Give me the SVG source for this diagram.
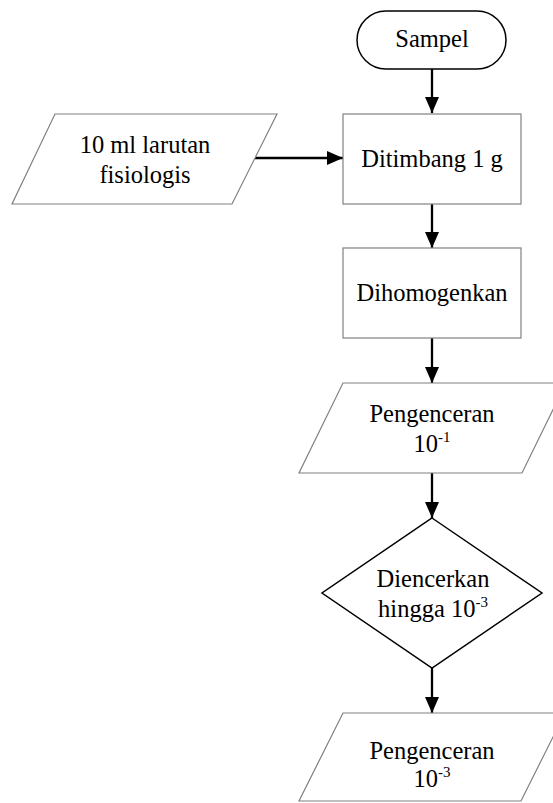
<svg xmlns="http://www.w3.org/2000/svg" width="553" height="803" viewBox="0 0 553 803">
  <style>
    .box { fill: #ffffff; stroke: #808080; stroke-width: 1.2; }
    .dark { fill: #ffffff; stroke: #000000; stroke-width: 1.5; }
    text { font-family: "Times New Roman", "Liberation Serif", "DejaVu Serif", serif; font-size: 24.5px; fill: #000000; text-anchor: middle; }
    .sup { font-size: 15px; }
    .flow { fill: none; stroke: #000000; stroke-width: 2.3; marker-end: url(#head); }
  </style>
  <defs>
    <marker id="head" markerUnits="userSpaceOnUse" markerWidth="16" markerHeight="14" refX="16" refY="7" orient="auto">
      <path d="M0,0 L16,7 L0,14 Z" fill="#000000"/>
    </marker>
  </defs>
  <rect width="553" height="803" fill="#ffffff"/>

  <g id="connectors">
    <line class="flow" x1="432" y1="69" x2="432" y2="113"/>
    <line class="flow" x1="255" y1="158" x2="343" y2="158"/>
    <line class="flow" x1="432" y1="204" x2="432" y2="248"/>
    <line class="flow" x1="432" y1="338" x2="432" y2="383"/>
    <line class="flow" x1="432" y1="473" x2="432" y2="518"/>
    <line class="flow" x1="432" y1="668" x2="432" y2="713"/>
  </g>

  <g id="sampel">
    <rect class="dark" x="357" y="11" width="149" height="58" rx="29" ry="29"/>
    <text x="432" y="47" font-family="Liberation Serif">Sampel</text>
  </g>

  <g id="larutan">
    <polygon class="box" points="55,114 277,114 232,204 12,204"/>
    <text x="145" y="153" font-family="Liberation Serif">10 ml larutan</text>
    <text x="145" y="183" font-family="Liberation Serif">fisiologis</text>
  </g>

  <g id="ditimbang">
    <rect class="box" x="343" y="114" width="178" height="90"/>
    <text x="432" y="167" font-family="Liberation Serif">Ditimbang 1 g</text>
  </g>

  <g id="dihomogenkan">
    <rect class="box" x="343" y="248" width="178" height="90"/>
    <text x="432" y="301" font-family="Liberation Serif">Dihomogenkan</text>
  </g>

  <g id="pengenceran-1">
    <polygon class="box" points="343,383 566,383 522,473 299,473"/>
    <text x="432" y="422" font-family="Liberation Serif">Pengenceran</text>
    <text x="432" y="452" font-family="Liberation Serif">10<tspan class="sup" dy="-10">-1</tspan></text>
  </g>

  <g id="diencerkan">
    <polygon class="dark" points="432,518 542,593 432,668 322,593"/>
    <text x="433" y="587" font-family="Liberation Serif">Diencerkan</text>
    <text x="433" y="617" font-family="Liberation Serif">hingga 10<tspan class="sup" dy="-10">-3</tspan></text>
  </g>

  <g id="pengenceran-3">
    <polygon class="box" points="343,713 565,713 521,801 299,801"/>
    <text x="432" y="759" font-family="Liberation Serif">Pengenceran</text>
    <text x="432" y="787" font-family="Liberation Serif">10<tspan class="sup" dy="-10">-3</tspan></text>
  </g>
</svg>
